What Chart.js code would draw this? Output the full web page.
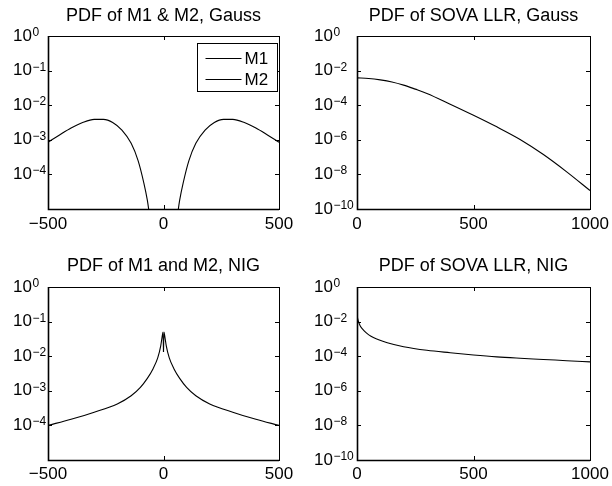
<!DOCTYPE html>
<html>
<head>
<meta charset="utf-8">
<script src="https://cdn.jsdelivr.net/npm/chart.js@4.4.1/dist/chart.umd.min.js"></script>
<style>
  html, body { margin: 0; padding: 0; background: #fff; }
  #wrap { position: relative; width: 612px; height: 486px; }
  .cell { position: absolute; width: 306px; height: 243px; }
</style>
</head>
<body>
<div id="wrap">
  <div class="cell" style="left:0;top:0"><canvas id="c1" width="306" height="243"></canvas></div>
  <div class="cell" style="left:306px;top:0"><canvas id="c2" width="306" height="243"></canvas></div>
  <div class="cell" style="left:0;top:243px"><canvas id="c3" width="306" height="243"></canvas></div>
  <div class="cell" style="left:306px;top:243px"><canvas id="c4" width="306" height="243"></canvas></div>
</div>
<script>
// metric pdf, Gauss channel
const gaussM1X = [-500, -450, -400, -350, -300, -260, -220, -180, -140, -110, -85, -70, -60];
const gaussM1Y = [8.5e-4, 1.38e-3, 2.19e-3, 3.16e-3, 3.89e-3, 3.89e-3, 3.16e-3, 1.9e-3, 7.9e-4, 2.5e-4, 5.6e-5, 1.8e-5, 6.3e-6];
const gaussM2X = [60, 70, 85, 110, 140, 180, 220, 260, 300, 350, 400, 450, 500];
const gaussM2Y = [6.3e-6, 1.8e-5, 5.6e-5, 2.5e-4, 7.9e-4, 1.9e-3, 3.16e-3, 3.89e-3, 3.89e-3, 3.16e-3, 2.19e-3, 1.38e-3, 8.5e-4];

// SOVA LLR pdf, Gauss channel
const sovaGaussX = [0, 50, 100, 150, 200, 250, 300, 400, 500, 600, 700, 800, 900, 1000];
const sovaGaussY = [3.8e-3, 3.5e-3, 2.9e-3, 2.2e-3, 1.45e-3, 8.5e-4, 4.8e-4, 1.15e-4, 2.63e-5, 5.6e-6, 1.05e-6, 1.41e-7, 1.41e-8, 1.17e-9];

// metric pdf, NIG channel
const nigM1X = [-500, -400, -300, -200, -140, -100, -70, -45, -25, -12, -5, -2, 0];
const nigM1Y = [1e-4, 1.51e-4, 2.4e-4, 4.17e-4, 7.2e-4, 1.26e-3, 2.29e-3, 4.37e-3, 8.9e-3, 2.0e-2, 3.98e-2, 5.0e-2, 1.32e-2];
const nigM2X = [0, 2, 5, 12, 25, 45, 70, 100, 140, 200, 300, 400, 500];
const nigM2Y = [1.32e-2, 5.0e-2, 3.98e-2, 2.0e-2, 8.9e-3, 4.37e-3, 2.29e-3, 1.26e-3, 7.2e-4, 4.17e-4, 2.4e-4, 1.51e-4, 1e-4];

// SOVA LLR pdf, NIG channel
const sovaNigX = [0, 3, 7, 14, 25, 40, 60, 90, 130, 200, 300, 400, 500, 600, 700, 800, 900, 1000];
const sovaNigY = [2.34e-2, 1.51e-2, 9.5e-3, 5.6e-3, 3.55e-3, 2.24e-3, 1.41e-3, 9.3e-4, 6.0e-4, 3.55e-4, 2.19e-4, 1.58e-4, 1.17e-4, 9.1e-5, 7.6e-5, 6.5e-5, 5.5e-5, 4.7e-5];

// tick labels
const xTicksSym = [-500, 0, 500];
const xTicksPos = [0, 500, 1000];
const yTicksMetric = [1, 1e-1, 1e-2, 1e-3, 1e-4];
const yTicksLlr = [1, 1e-2, 1e-4, 1e-6, 1e-8, 1e-10];

const FONT = "'Liberation Sans', Arial, Helvetica, sans-serif";

function pts(xs, ys) {
  return xs.map((x, i) => ({ x: x, y: ys[i] }));
}

function expOf(v) {
  const e = Math.round(Math.log10(v));
  return e < 0 ? '\u2212' + Math.abs(e) : String(e);
}

// box round the plot + inward ticks on all four sides
const matlabBox = {
  id: 'matlabBox',
  afterDatasetsDraw(chart) {
    const { ctx, chartArea: a, scales } = chart;
    ctx.save();
    ctx.strokeStyle = '#000';
    ctx.lineWidth = 1;
    const len = 4;
    ctx.beginPath();
    scales.x.ticks.forEach(t => {
      const px = Math.round(scales.x.getPixelForValue(t.value)) + 0.5;
      if (px < a.left + 2 || px > a.right - 2) return;
      ctx.moveTo(px, a.bottom); ctx.lineTo(px, a.bottom - len);
      ctx.moveTo(px, a.top); ctx.lineTo(px, a.top + len);
    });
    scales.y.ticks.forEach(t => {
      const py = Math.round(scales.y.getPixelForValue(t.value)) + 0.5;
      if (py < a.top + 2 || py > a.bottom - 2) return;
      ctx.moveTo(a.left, py); ctx.lineTo(a.left + len, py);
      ctx.moveTo(a.right, py); ctx.lineTo(a.right - len, py);
    });
    ctx.stroke();
    ctx.strokeRect(Math.round(a.left) + 0.5, Math.round(a.top) + 0.5,
      Math.round(a.right - a.left), Math.round(a.bottom - a.top));
    // heavier left and bottom axis lines
    ctx.lineWidth = 1.6;
    ctx.beginPath();
    ctx.moveTo(Math.round(a.left) + 0.5, a.top);
    ctx.lineTo(Math.round(a.left) + 0.5, Math.round(a.bottom) + 0.5);
    ctx.lineTo(a.right, Math.round(a.bottom) + 0.5);
    ctx.stroke();
    ctx.restore();
  }
};

// exponents of the 10^n labels on the y axis
const powExponent = {
  id: 'powExponent',
  afterDraw(chart) {
    const { ctx } = chart;
    const y = chart.scales.y;
    ctx.save();
    ctx.font = '17px ' + FONT;
    const baseW = ctx.measureText('10').width;
    ctx.font = '12px ' + FONT;
    ctx.fillStyle = '#000';
    ctx.textAlign = 'left';
    ctx.textBaseline = 'alphabetic';
    y.ticks.forEach(t => {
      const py = y.getPixelForValue(t.value);
      ctx.fillText(expOf(t.value), y.left + baseW + 0.5, py);
    });
    ctx.restore();
  }
};

// legend box inside the upper-right corner
const innerLegend = {
  id: 'innerLegend',
  afterDraw(chart, args, opts) {
    if (!opts.show) return;
    const { ctx, chartArea: a } = chart;
    const w = 80, h = 48;
    const x0 = Math.round(a.right - w - 2) + 0.5, y0 = Math.round(a.top + 7) + 0.5;
    ctx.save();
    ctx.fillStyle = '#fff';
    ctx.fillRect(x0, y0, w, h);
    ctx.strokeStyle = '#000';
    ctx.lineWidth = 1;
    ctx.strokeRect(x0, y0, w, h);
    ctx.font = '17px ' + FONT;
    ctx.fillStyle = '#000';
    ctx.textBaseline = 'middle';
    chart.data.datasets.forEach((ds, i) => {
      const yy = Math.round(y0 + 14 + i * 21.5) + 0.5;
      ctx.beginPath();
      ctx.moveTo(x0 + 8, yy); ctx.lineTo(x0 + 44, yy);
      ctx.stroke();
      ctx.fillText(ds.label, x0 + 47, yy + 1);
    });
    ctx.restore();
  }
};

function makeChart(id, cfg) {
  const datasets = cfg.series.map(s => ({
    label: s.label,
    data: s.data,
    borderColor: '#000',
    borderWidth: 1.1,
    pointRadius: 0,
    fill: false,
    cubicInterpolationMode: 'monotone'
  }));
  return new Chart(document.getElementById(id), {
    type: 'line',
    data: { datasets: datasets },
    plugins: [matlabBox, powExponent, innerLegend],
    options: {
      responsive: false,
      animation: false,
      devicePixelRatio: 1,
      layout: { padding: { left: cfg.padLeft, right: cfg.padRight, top: 0, bottom: 0 } },
      plugins: {
        legend: { display: false },
        tooltip: { enabled: false },
        innerLegend: { show: !!cfg.legend },
        title: {
          display: true,
          text: cfg.title,
          color: '#000',
          fullSize: false,
          font: { family: FONT, size: 18, weight: 'normal' },
          padding: { top: cfg.titleTop, bottom: cfg.titleBottom }
        }
      },
      scales: {
        x: {
          type: 'linear',
          min: cfg.xTicks[0],
          max: cfg.xTicks[cfg.xTicks.length - 1],
          afterBuildTicks: ax => { ax.ticks = cfg.xTicks.map(v => ({ value: v })); },
          afterFit: ax => { ax.height = cfg.xHeight; },
          grid: { display: false },
          border: { display: false },
          ticks: {
            color: '#000',
            padding: cfg.xPad,
            maxRotation: 0,
            font: { family: FONT, size: 17 },
            callback: v => (v < 0 ? '\u2212' + Math.abs(v) : String(v))
          }
        },
        y: {
          type: 'logarithmic',
          min: cfg.yMin,
          max: 1,
          afterBuildTicks: ax => { ax.ticks = cfg.yTicks.map(v => ({ value: v })); },
          afterFit: ax => { ax.width = cfg.yWidth; },
          grid: { display: false },
          border: { display: false },
          ticks: {
            color: '#000',
            crossAlign: 'far',
            font: { family: FONT, size: 17 },
            callback: () => '10'
          }
        }
      }
    }
  });
}

makeChart('c1', {
  title: 'PDF of M1 & M2, Gauss',
  series: [{ label: 'M1', data: pts(gaussM1X, gaussM1Y) }, { label: 'M2', data: pts(gaussM2X, gaussM2Y) }],
  legend: true,
  xTicks: xTicksSym, yTicks: yTicksMetric, yMin: 1e-5,
  padLeft: 13, padRight: 27, yWidth: 35, xHeight: 34, xPad: -3,
  titleTop: 5, titleBottom: 9.4
});
makeChart('c2', {
  title: 'PDF of SOVA LLR, Gauss',
  series: [{ label: 'LLR', data: pts(sovaGaussX, sovaGaussY) }],
  xTicks: xTicksPos, yTicks: yTicksLlr, yMin: 1e-10,
  padLeft: 8, padRight: 22, yWidth: 43, xHeight: 34, xPad: -3,
  titleTop: 5, titleBottom: 9.4
});
makeChart('c3', {
  title: 'PDF of M1 and M2, NIG',
  series: [{ label: 'M1', data: pts(nigM1X, nigM1Y) }, { label: 'M2', data: pts(nigM2X, nigM2Y) }],
  xTicks: xTicksSym, yTicks: yTicksMetric, yMin: 1e-5,
  padLeft: 13, padRight: 27, yWidth: 35, xHeight: 26, xPad: -4,
  titleTop: 12.5, titleBottom: 9.9
});
makeChart('c4', {
  title: 'PDF of SOVA LLR, NIG',
  series: [{ label: 'LLR', data: pts(sovaNigX, sovaNigY) }],
  xTicks: xTicksPos, yTicks: yTicksLlr, yMin: 1e-10,
  padLeft: 8, padRight: 22, yWidth: 43, xHeight: 26, xPad: -4,
  titleTop: 12.5, titleBottom: 9.9
});
</script>
</body>
</html>
